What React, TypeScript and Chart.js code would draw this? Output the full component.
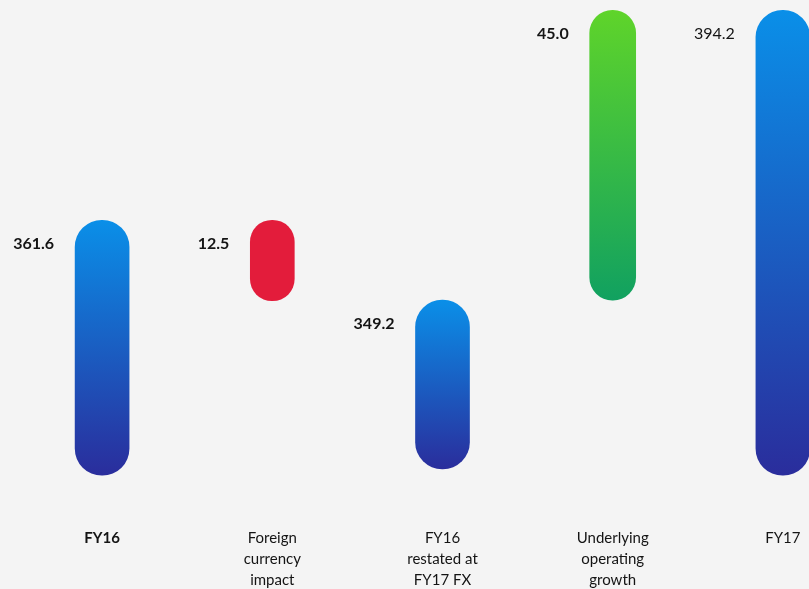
import React, { useEffect, useRef } from 'react';
import { Chart, registerables } from 'chart.js';

Chart.register(...registerables);

// ---- data ----
const categories: string[][] = [
  ['FY16'],
  ['Foreign', 'currency', 'impact'],
  ['FY16', 'restated at', 'FY17 FX'],
  ['Underlying', 'operating', 'growth'],
  ['FY17'],
];
const totalBase: (number | null)[] = [322, null, 323, null, 322];
const totalValues: (number | null)[] = [361.6, null, 349.2, null, 394.2];
const decreaseValues: (number | null)[] = [null, 12.5, null, null, null];
const increaseValues: (number | null)[] = [null, null, null, 45.0, null];
const yMin = 316.3;
const yMax = 395.8;

// ---- styles ----
const BG = '#f4f4f4';
const TEXT = '#141414';
const FONT = 'Lato, "Noto Sans", sans-serif';
const valueLabelBold = [true, true, true, true, false];
const categoryLabelBold = [true, false, false, false, false];

// running totals used to float the change bars
const runningBefore: number[] = [];
{
  let run = 0;
  categories.forEach((_, i) => {
    runningBefore.push(run);
    if (totalValues[i] != null) run = totalValues[i] as number;
    else if (decreaseValues[i] != null) run = run - (decreaseValues[i] as number);
    else if (increaseValues[i] != null) run = run + (increaseValues[i] as number);
  });
}

const totalData = categories.map((_, i) =>
  totalValues[i] == null ? null : [totalBase[i] as number, totalValues[i] as number]
);
const decreaseData = categories.map((_, i) =>
  decreaseValues[i] == null ? null : [runningBefore[i] - (decreaseValues[i] as number), runningBefore[i]]
);
const increaseData = categories.map((_, i) =>
  increaseValues[i] == null ? null : [runningBefore[i], runningBefore[i] + (increaseValues[i] as number)]
);
const displayValues = categories.map((_, i) =>
  (totalValues[i] ?? decreaseValues[i] ?? increaseValues[i]) as number
);

const gradient = (top: string, bottom: string) => (ctx: any) => {
  const chart = ctx.chart;
  const raw = ctx.raw;
  const y = chart?.scales?.y;
  if (!Array.isArray(raw) || !y) return top;
  const p0 = y.getPixelForValue(Math.max(raw[0], raw[1]));
  const p1 = y.getPixelForValue(Math.min(raw[0], raw[1]));
  if (!isFinite(p0) || !isFinite(p1) || p0 === p1) return top;
  const g = chart.ctx.createLinearGradient(0, p0, 0, p1);
  g.addColorStop(0, top);
  g.addColorStop(1, bottom);
  return g;
};

const valueLabelPlugin = {
  id: 'valueLabels',
  afterDatasetsDraw(chart: any) {
    const ctx = chart.ctx;
    chart.data.datasets.forEach((ds: any, di: number) => {
      const meta = chart.getDatasetMeta(di);
      meta.data.forEach((bar: any, i: number) => {
        if (ds.data[i] == null) return;
        const p = bar.getProps(['x', 'y', 'base', 'width'], true);
        const top = Math.min(p.y, p.base);
        ctx.save();
        ctx.font = `${valueLabelBold[i] ? 'bold' : 'normal'} 16px ${FONT}`;
        ctx.fillStyle = TEXT;
        ctx.textAlign = 'right';
        ctx.textBaseline = 'middle';
        ctx.fillText(displayValues[i].toFixed(1), p.x - p.width / 2 - 21, top + 24);
        ctx.restore();
      });
    });
  },
};

export default function App() {
  const ref = useRef<HTMLCanvasElement | null>(null);

  useEffect(() => {
    document.body.style.margin = '0';
    document.body.style.background = BG;
    if (!ref.current) return;
    const chart = new Chart(ref.current, {
      type: 'bar',
      data: {
        labels: categories,
        datasets: [
          {
            label: 'Total',
            data: totalData as any,
            backgroundColor: gradient('#0a8fe8', '#2a2d9c'),
            barThickness: 54,
            borderRadius: 100,
            borderSkipped: false,
            grouped: false,
          } as any,
          {
            label: 'Decrease',
            data: decreaseData as any,
            backgroundColor: '#e31c3b',
            barThickness: 44,
            borderRadius: 100,
            borderSkipped: false,
            grouped: false,
          } as any,
          {
            label: 'Increase',
            data: increaseData as any,
            backgroundColor: gradient('#5fd42a', '#11a160'),
            barThickness: 46,
            borderRadius: 100,
            borderSkipped: false,
            grouped: false,
          } as any,
        ],
      },
      options: {
        responsive: true,
        maintainAspectRatio: false,
        animation: false,
        layout: { padding: { left: 17, right: 16, top: 0, bottom: 0 } },
        plugins: {
          legend: { display: false },
          tooltip: { enabled: false },
        },
        scales: {
          x: {
            grid: { display: false, drawTicks: false },
            border: { display: false },
            ticks: {
              autoSkip: false,
              maxRotation: 0,
              padding: 16,
              color: TEXT,
              font: (c: any) => ({
                family: FONT,
                size: 15,
                lineHeight: '21px',
                weight: categoryLabelBold[c.index] ? 'bold' : 'normal',
              }),
            },
          },
          y: {
            display: false,
            min: yMin,
            max: yMax,
          },
        },
      },
      plugins: [valueLabelPlugin],
    });
    return () => chart.destroy();
  }, []);

  return (
    <div style={{ width: 809, height: 589, overflow: 'hidden', background: BG, position: 'relative' }}>
      <div style={{ width: 884, height: 607, position: 'absolute', left: 0, top: 0 }}>
        <canvas ref={ref} />
      </div>
    </div>
  );
}
